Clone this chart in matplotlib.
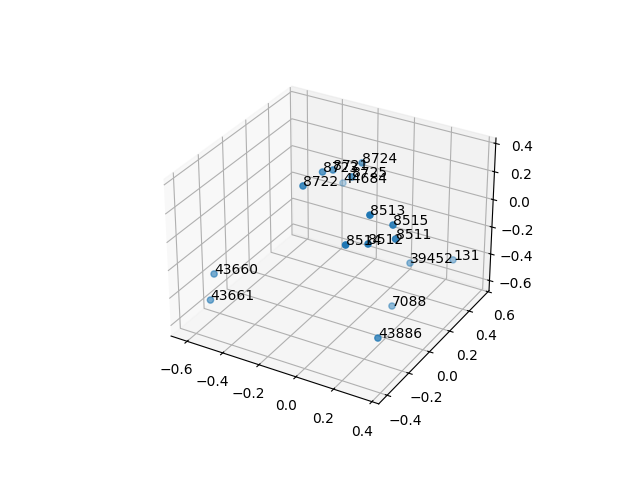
import matplotlib
matplotlib.use("Agg")
import matplotlib.pyplot as plt

labels = ["8724", "8723", "8721", "8725", "44684", "8722", "8513", "8515", "8511",
          "8512", "8514", "39452", "131", "43660", "43661", "7088", "43886"]
x = [-0.021, -0.135, -0.103, 0.006, -0.223, -0.144, 0.222, 0.277, 0.303,
     0.224, 0.161, 0.226, 0.375, -0.505, -0.49, 0.203, 0.301]
y = [0.149, -0.014, 0.026, 0.011, 0.319, -0.169, -0.199, -0.086, -0.107,
     -0.217, -0.307, 0.178, 0.328, -0.373, -0.431, 0.052, -0.253]
z = [0.393, 0.393, 0.393, 0.393, 0.072, 0.393, 0.348, 0.225, 0.153,
     0.164, 0.195, -0.245, -0.269, -0.222, -0.362, -0.477, -0.439]

fig = plt.figure(figsize=(6.4, 4.8), dpi=100)
ax = fig.add_subplot(projection="3d")
ax.scatter(x, y, z)
for px, py, pz, label in zip(x, y, z, labels):
    ax.text(px, py, pz, label)
ax.set_xlim(-0.691, 0.435)
ax.set_ylim(-0.476, 0.611)
ax.set_zlim(-0.677, 0.438)
fig.savefig("out.png", dpi=100)
